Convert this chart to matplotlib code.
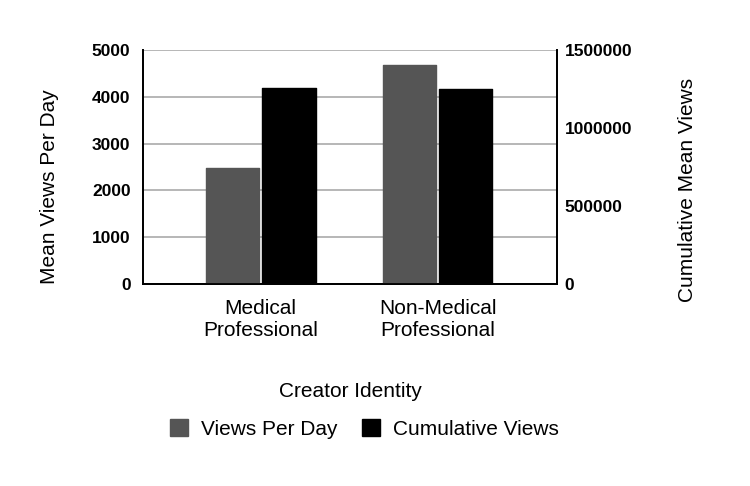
import numpy as np
import matplotlib
matplotlib.use('Agg')
from matplotlib import pyplot as plt

plt.rcParams['font.family'] = ['Liberation Sans', 'DejaVu Sans']

categories = ['Medical\nProfessional', 'Non-Medical\nProfessional']
views_per_day = [2485, 4690]
cumulative_views = [1258000, 1248000]
left_ticks = [0, 1000, 2000, 3000, 4000, 5000]
right_ticks = [0, 500000, 1000000, 1500000]

fig = plt.figure(figsize=(7.5, 4.86), dpi=100)
ax = fig.add_axes([0.1907, 0.4156, 0.552, 0.4814])
ax2 = ax.twinx()

x = np.arange(len(categories))
w = 0.30
gap = 0.01

ax.bar(x - w/2 - gap, views_per_day, w, color='#555555', edgecolor='#555555',
       linewidth=1, joinstyle='round', label='Views Per Day', zorder=3)
ax2.bar(x + w/2 + gap, cumulative_views, w, color='#000000', edgecolor='#000000',
        linewidth=1, joinstyle='round', label='Cumulative Views', zorder=3)

ax.set_xlim(-0.665, 1.675)
ax.set_ylim(0, 5000)
ax2.set_ylim(0, 1500000)
ax.set_yticks(left_ticks)
ax.set_yticklabels([str(t) for t in left_ticks], fontweight='bold')
ax2.set_yticks(right_ticks)
ax2.set_yticklabels([str(t) for t in right_ticks], fontweight='bold')
ax.set_xticks(x)
ax.set_xticklabels(categories, fontsize=15, linespacing=1.2)

ax.yaxis.grid(True, color='#aaaaaa', linewidth=1.2, zorder=0)
ax.set_axisbelow(True)

for a in (ax, ax2):
    a.spines['top'].set_visible(False)
    for s in ('left', 'right', 'bottom'):
        a.spines[s].set_linewidth(1.3)
        a.spines[s].set_color('black')
    a.tick_params(axis='y', length=0, labelsize=12.5)
    a.tick_params(axis='x', length=0)

ax.tick_params(axis='y', pad=9)
ax2.tick_params(axis='y', pad=5.5)
ax.tick_params(axis='x', pad=11)

ax.set_ylabel('Mean Views Per Day', fontsize=15, va='center')
ax.yaxis.set_label_coords(-0.225, 0.415)
ax2.set_ylabel('Cumulative Mean Views', fontsize=15, va='center')
ax2.yaxis.set_label_coords(1.316, 0.402)
ax.set_xlabel('Creator Identity', fontsize=15, va='center')
ax.xaxis.set_label_coords(0.5, -0.46)

h1, l1 = ax.get_legend_handles_labels()
h2, l2 = ax2.get_legend_handles_labels()
fig.legend(h1 + h2, l1 + l2, loc='center', bbox_to_anchor=(0.486, 0.117),
           ncol=2, frameon=False, fontsize=15, handlelength=0.87,
           handleheight=0.87, columnspacing=1.2, handletextpad=0.62)

plt.savefig('out.png', dpi=100)
